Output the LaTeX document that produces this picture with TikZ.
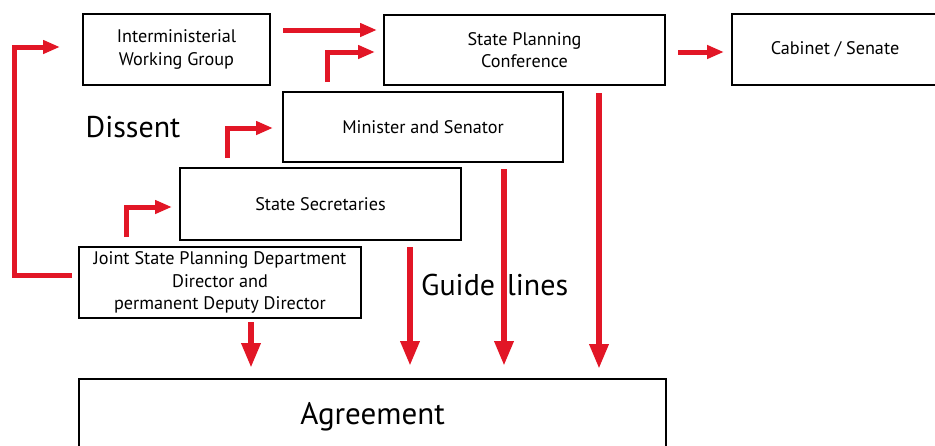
\documentclass[tikz,border=0pt]{standalone}
\usepackage{fontspec}
\setmainfont{PT Sans}
\usetikzlibrary{arrows.meta}
\definecolor{flowred}{RGB}{226,22,38}
\begin{document}
\begin{tikzpicture}[x=1pt,y=-1pt,
  box/.style={draw=black, line width=2pt, align=center, inner sep=0pt,
    font=\fontsize{18.2}{22.5}\selectfont},
  bigtext/.style={font=\fontsize{30}{32}\selectfont, inner sep=0pt},
  redarr/.style={draw=flowred, line width=5pt, -{Triangle[length=17pt,width=13pt]}},
  redvert/.style={draw=flowred, line width=6.5pt, -{Triangle[length=25pt,width=18pt]}}]
\useasboundingbox (0,0) rectangle (935,445);
\begin{scope}
\clip (0,0) rectangle (935,445);
% boxes
\node[box, minimum width=187pt, minimum height=71pt] (iwg) at (176.5,49.5) {Interministerial\\Working Group};
\node[box, minimum width=281pt, minimum height=70pt] (spc) at (524.5,50) {State Planning\\Conference};
\node[box, minimum width=206pt, minimum height=71pt] (cab) at (835,49.5) {Cabinet / Senate};
\node[box, minimum width=280pt, minimum height=70pt] (ms) at (423,127) {Minister and Senator};
\node[box, minimum width=281pt, minimum height=72pt] (ss) at (320.5,204) {State Secretaries};
\node[box, minimum width=282pt, minimum height=71pt] (jspd) at (220,282.5) {Joint State Planning Department\\Director and\\permanent Deputy Director};
\node[box, minimum width=587pt, minimum height=76pt, font=\fontsize{31}{32}\selectfont] (agr) at (372.5,417) {Agreement};
% labels
\node[bigtext, anchor=base] (dissent) at (133,137) {Dissent};
\node[bigtext, anchor=base west] (guide) at (421,295) {Guide\hspace{12pt}lines};
% free arrow ends
\coordinate (a1s) at (283,30);  \coordinate (a1e) at (377,30);
\coordinate (a2s) at (327,82);  \coordinate (a2e) at (375,52);
\coordinate (a3s) at (678,52);  \coordinate (a3e) at (724,52);
\coordinate (l1) at (72,275);   \coordinate (l2) at (14,275);
\coordinate (l3) at (14,47);    \coordinate (l4) at (60,47);
\coordinate (a5s) at (227,158); \coordinate (a5e) at (273,128);
\coordinate (a6s) at (126,237); \coordinate (a6e) at (172,207);
\coordinate (v1s) at (251,322); \coordinate (v1e) at (251,368);
\coordinate (v2s) at (410,247); \coordinate (v2e) at (410,366);
\coordinate (v3s) at (504,169); \coordinate (v3e) at (504,366);
\coordinate (v4s) at (599,93);  \coordinate (v4e) at (599,369);
% red connectors
\draw[redarr] (a1s) -- (a1e);
\draw[redarr] (a2s) |- (a2e);
\draw[redarr] (a3s) -- (a3e);
\draw[redarr] (l1) -- (l2) -- (l3) -- (l4);
\draw[redarr] (a5s) |- (a5e);
\draw[redarr] (a6s) |- (a6e);
\draw[redvert] (v1s) -- (v1e);
\draw[redvert] (v2s) -- (v2e);
\draw[redvert] (v3s) -- (v3e);
\draw[redvert] (v4s) -- (v4e);
\end{scope}
\end{tikzpicture}
\end{document}
